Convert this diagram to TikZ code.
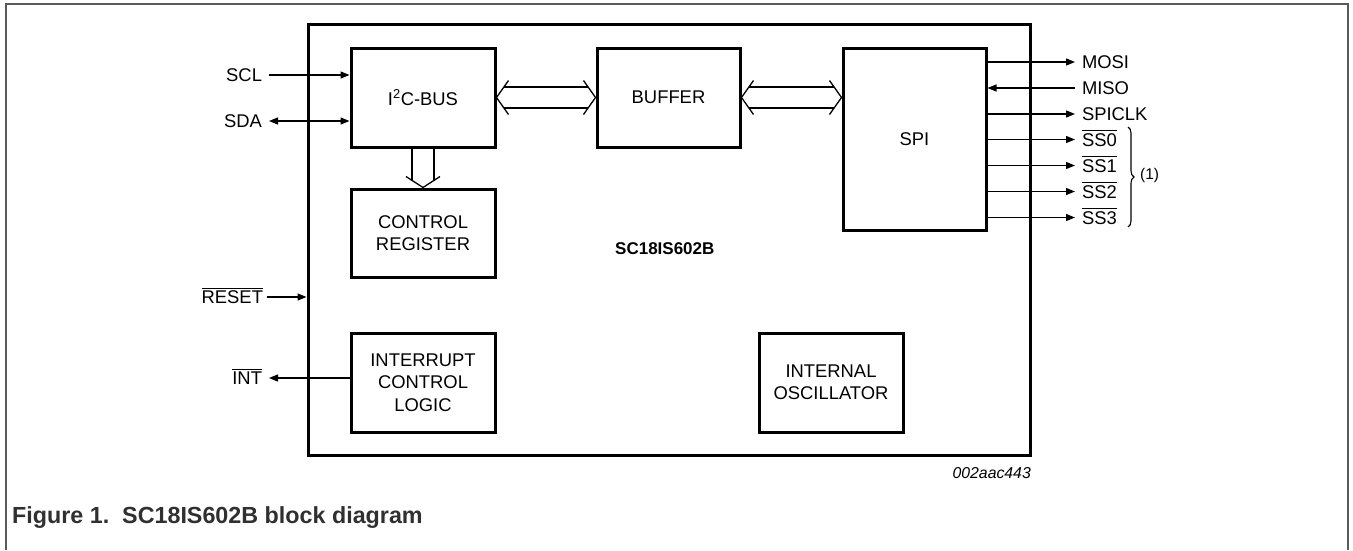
\documentclass[tikz,border=0pt]{standalone}
\usepackage{fontspec}
\setmainfont{Liberation Sans}
\usetikzlibrary{arrows.meta,calc,decorations.pathreplacing}
\newcommand\lblfont{\fontsize{18.4}{22.5}\selectfont}
\newcommand\ovl[1]{\leavevmode\vbox{\hrule height 1.2pt\kern1.8pt\hbox{#1}}}
\definecolor{framegray}{HTML}{5A5A5A}
\definecolor{capgray}{HTML}{303030}
\begin{document}
\begin{tikzpicture}[x=1pt,y=-1pt,
  blk/.style={draw, line width=3pt, align=center, font=\lblfont, inner sep=0pt},
  lbl/.style={font=\lblfont, inner sep=0pt, outer sep=0pt, text height=13.2pt, text depth=0pt},
  sig/.style={line width=1.3pt},
  tipr/.style={-{Triangle[length=9pt,width=7pt]}},
  tipl/.style={{Triangle[length=9pt,width=7pt]}-},
  tipb/.style={{Triangle[length=9pt,width=7pt]}-{Triangle[length=9pt,width=7pt]}},
  hol/.style={line width=1.3pt}
]
\useasboundingbox (0,0) rectangle (1353,550);
% outer frame
\draw[framegray, line width=2.2pt] (6,550) -- (6,4) -- (1348,4) -- (1348,550);

% chip
\node[draw, line width=3pt, minimum width=722, minimum height=431, inner sep=0pt] (chip) at (669,239.5) {};
\node[font=\fontsize{17}{20}\selectfont\bfseries, anchor=west, inner sep=0pt] (chipname) at (615,249) {SC18IS602B};

% blocks
\node[blk, minimum width=144, minimum height=99] (i2c) at (423,97.5) {I\textsuperscript{2}C-BUS};
\node[blk, minimum width=143, minimum height=99] (buf) at (668.5,97.5) {BUFFER};
\node[blk, minimum width=143, minimum height=182] (spi) at (914.5,139) {SPI};
\node[blk, minimum width=144, minimum height=88] (ctrl) at (423,233) {CONTROL\\REGISTER};
\node[blk, minimum width=144, minimum height=99] (intr) at (423,382.5) {INTERRUPT\\CONTROL\\LOGIC};
\node[blk, minimum width=144, minimum height=99] (osc) at (831,382.5) {INTERNAL\\OSCILLATOR};

% hollow bus arrows I2C <-> BUFFER
\draw[hol] ($(i2c.east)+(12,-17)$) -- (i2c.east) -- ($(i2c.east)+(12,17)$);
\draw[hol] ($(buf.west)+(-12,-17)$) -- (buf.west) -- ($(buf.west)+(-12,17)$);
\draw[hol] ($(i2c.east)+(7.5,-10.5)$) -- ($(buf.west)+(-7.5,-10.5)$);
\draw[hol] ($(i2c.east)+(7.5,10.5)$) -- ($(buf.west)+(-7.5,10.5)$);
% BUFFER <-> SPI
\coordinate (spiin) at (spi.west |- buf.east);
\draw[hol] ($(buf.east)+(12,-17)$) -- (buf.east) -- ($(buf.east)+(12,17)$);
\draw[hol] ($(spiin)+(-12,-17)$) -- (spiin) -- ($(spiin)+(-12,17)$);
\draw[hol] ($(buf.east)+(7.5,-10.5)$) -- ($(spiin)+(-7.5,-10.5)$);
\draw[hol] ($(buf.east)+(7.5,10.5)$) -- ($(spiin)+(-7.5,10.5)$);
% I2C -> CONTROL REGISTER
\draw[hol] ($(ctrl.north)+(-17,-11)$) -- (ctrl.north) -- ($(ctrl.north)+(17,-11)$);
\draw[hol] ($(i2c.south)+(-11,0)$) -- ($(ctrl.north)+(-11,-7)$);
\draw[hol] ($(i2c.south)+(11,0)$) -- ($(ctrl.north)+(11,-7)$);

% left signals
\node[lbl, anchor=east] (scl) at (262,75) {SCL};
\node[lbl, anchor=east] (sda) at (262,121) {SDA};
\node[lbl, anchor=east] (rst) at (263,297) {\ovl{RESET}};
\node[lbl, anchor=east] (int) at (262,378) {\ovl{INT}};
\draw[sig, tipr, shorten <=7pt] (scl.east) -- (scl.east -| i2c.west);
\draw[sig, tipb, shorten <=7pt] (sda.east) -- (sda.east -| i2c.west);
\draw[sig, tipr, shorten <=4pt] (rst.east) -- (rst.east -| chip.west);
\draw[sig, tipr, shorten >=7pt] (intr.west |- int.east) -- (int.east);

% right signals
\node[lbl, anchor=west] (mosi) at (1082,62) {MOSI};
\node[lbl, anchor=west] (miso) at (1082,88) {MISO};
\node[lbl, anchor=west] (sclk) at (1082,114) {SPICLK};
\node[lbl, anchor=west] (ss0) at (1082,139.5) {\ovl{SS0}};
\node[lbl, anchor=west] (ss1) at (1082,165.5) {\ovl{SS1}};
\node[lbl, anchor=west] (ss2) at (1082,191.5) {\ovl{SS2}};
\node[lbl, anchor=west] (ss3) at (1082,217.5) {\ovl{SS3}};
\draw[sig, tipr, shorten >=7pt] (spi.east |- mosi.west) -- (mosi.west);
\draw[sig, tipl, shorten >=7pt] (spi.east |- miso.west) -- (miso.west);
\draw[sig, tipr, shorten >=7pt] (spi.east |- sclk.west) -- (sclk.west);
\draw[sig, tipr, shorten >=7pt] (spi.east |- ss0.west) -- (ss0.west);
\draw[sig, tipr, shorten >=7pt] (spi.east |- ss1.west) -- (ss1.west);
\draw[sig, tipr, shorten >=7pt] (spi.east |- ss2.west) -- (ss2.west);
\draw[sig, tipr, shorten >=7pt] (spi.east |- ss3.west) -- (ss3.west);

% brace
\coordinate (bt) at (1128,127);
\coordinate (bb) at (1128,227);
\draw[line width=1.1pt, decorate, decoration={brace, amplitude=6pt}] (bt) -- (bb);
\node[font=\fontsize{15.5}{18}\selectfont, anchor=west, inner sep=0pt] (note) at (1140,175) {(1)};

% figure id and caption
\node[font=\fontsize{15.8}{18}\selectfont\itshape, anchor=east, inner sep=0pt] (figid) at (1031,473) {002aac443};
\node[font=\fontsize{23.3}{27}\selectfont\bfseries, text=capgray, anchor=west, inner sep=0pt] (cap) at (12,518) {Figure 1.\ \ SC18IS602B block diagram};
\end{tikzpicture}
\end{document}
